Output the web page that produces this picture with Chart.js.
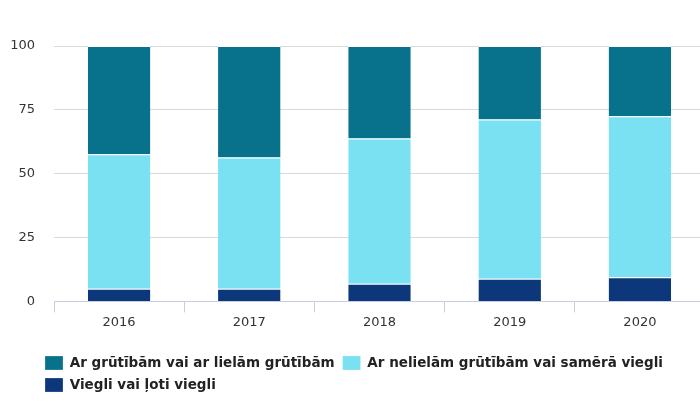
<!DOCTYPE html>
<html>
<head>
<meta charset="utf-8">
<script src="https://cdn.jsdelivr.net/npm/chart.js@4/dist/chart.umd.min.js"></script>
<style>
    html, body { margin: 0; padding: 0; background: #fff; overflow: hidden; }
    #wrap { position: relative; width: 705px; height: 411px; }
</style>
</head>
<body>
<div id="wrap"><canvas id="chart"></canvas></div>
<script>
// ── Data ──────────────────────────────────────────────────────────────────
const years = ['2016', '2017', '2018', '2019', '2020'];

const easyLabel = 'Viegli vai ļoti viegli';
const easyValues = [5, 5, 6.9, 8.9, 9.5];

const smallLabel = 'Ar nelielām grūtībām vai samērā viegli';
const smallValues = [52.6, 51.3, 56.9, 62.3, 63];

const hardLabel = 'Ar grūtībām vai ar lielām grūtībām';
const hardValues = [42.4, 43.7, 36.2, 28.8, 27.5];

const yStep = 25;

// ── Theme ─────────────────────────────────────────────────────────────────
const FONT = 'DejaVu Sans';
const TEXT_COLOR = '#333333';
const GRID_COLOR = '#d9d9d9';
const AXIS_COLOR = '#c6cfdf';

const PAD_LEFT = 8;      // canvas edge → y labels
const PLOT_LEFT = 54;    // where the plot area starts
const LEGEND_LEFT = 37;  // legend is indented more than the y labels

const bar = (label, data, color) => ({
    label,
    data,
    backgroundColor: color,
    borderColor: '#ffffff',
    borderWidth: { top: 1, bottom: 0, left: 0, right: 0 },
    borderSkipped: false,
    barPercentage: 0.48,
    categoryPercentage: 1,
});

// Shift the legend box right so it is indented like the original
const legendIndent = {
    id: 'legendIndent',
    afterLayout(chart) {
        if (chart.legend) chart.legend.left = LEGEND_LEFT;
    },
};

new Chart(document.getElementById('chart'), {
    type: 'bar',
    data: {
        labels: years,
        // stacked bottom → top; legend is reversed to read top → bottom
        datasets: [
            bar(easyLabel, easyValues, '#0c377a'),
            bar(smallLabel, smallValues, '#79e1f1'),
            bar(hardLabel, hardValues, '#08718b'),
        ],
    },
    plugins: [legendIndent],
    options: {
        responsive: true,
        maintainAspectRatio: false,
        animation: false,
        layout: { padding: { left: PAD_LEFT, right: 0, top: 46, bottom: 9 } },
        plugins: {
            tooltip: { enabled: false },
            legend: {
                position: 'bottom',
                align: 'start',
                reverse: true,
                // empty title only adds the gap between the x labels and the legend
                title: { display: true, text: '', padding: { top: 3, bottom: 3 }, font: { size: 10, lineHeight: 1 } },
                labels: {
                    boxWidth: 18,
                    boxHeight: 14,
                    padding: 8,
                    color: '#222222',
                    font: { family: FONT, size: 13.5, weight: 'bold' },
                },
            },
        },
        scales: {
            x: {
                stacked: true,
                border: { display: true, color: AXIS_COLOR, width: 1 },
                grid: {
                    offset: true,
                    drawOnChartArea: false,
                    drawTicks: true,
                    tickLength: 11,
                    color: AXIS_COLOR,
                },
                ticks: { color: TEXT_COLOR, padding: 2, font: { family: FONT, size: 13 } },
            },
            y: {
                stacked: true,
                min: 0,
                max: 100,
                afterFit: (scale) => { scale.width = PLOT_LEFT - PAD_LEFT; },
                border: { display: false },
                grid: { color: GRID_COLOR, drawTicks: false },
                ticks: { stepSize: yStep, color: TEXT_COLOR, padding: 19, font: { family: FONT, size: 13 } },
            },
        },
    },
});
</script>
</body>
</html>
